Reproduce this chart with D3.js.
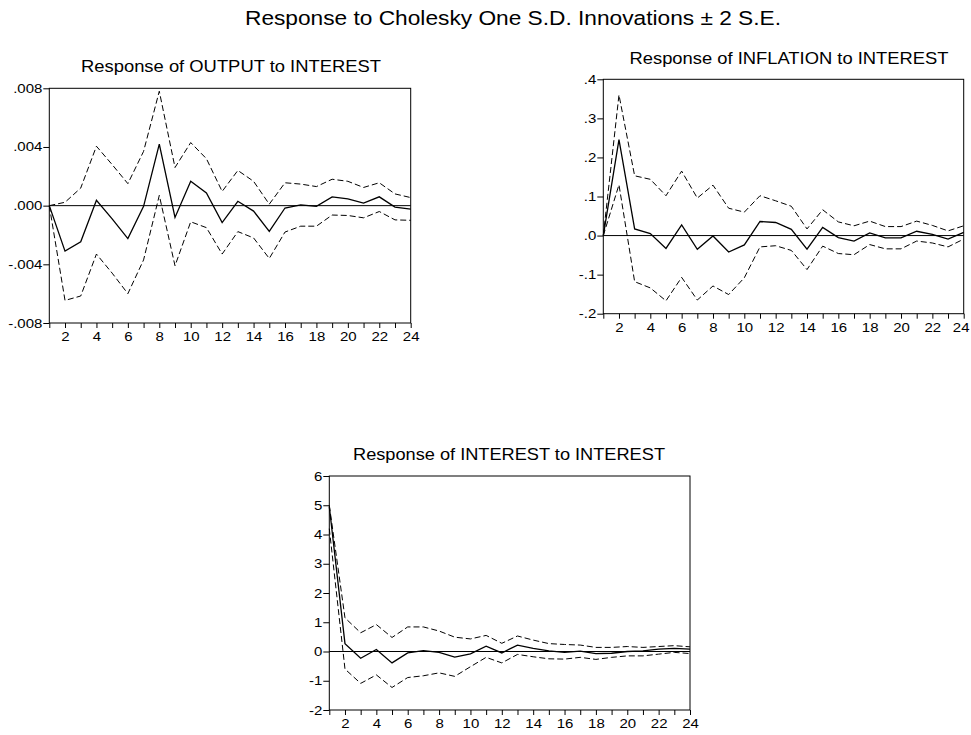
<!DOCTYPE html>
<html>
<head>
<meta charset="utf-8">
<script src="https://cdn.jsdelivr.net/npm/d3@7"></script>
<style>
  body { margin: 0; background: #fff; }
  svg { display: block; font-family: Arial, "Liberation Sans", sans-serif; }
</style>
</head>
<body>
<svg id="chart" width="971" height="735"></svg>
<script>
// periods on the x axis
const periods = d3.range(1, 25);

// Response of OUTPUT to INTEREST
const outputResp  = [0, -0.0031, -0.00246, 0.00037, -0.0009, -0.00225, -0.00005, 0.0042, -0.0008, 0.00166, 0.00087, -0.00115, 0.0003, -0.00037, -0.00175, -0.00016, 0.00005, -0.00005, 0.0006, 0.00046, 0.00018, 0.0006, -0.0001, -0.00023];
const outputUpper = [0, 0.00023, 0.0012, 0.00405, 0.0028, 0.0015, 0.0037, 0.0078, 0.0026, 0.0043, 0.0032, 0.00097, 0.0024, 0.00166, 0.0001, 0.00156, 0.00147, 0.0013, 0.0018, 0.00166, 0.00124, 0.00156, 0.0008, 0.00055];
const outputLower = [0, -0.00646, -0.00616, -0.0033, -0.0046, -0.006, -0.0037, 0.0007, -0.0041, -0.0011, -0.0015, -0.0033, -0.00177, -0.0022, -0.0036, -0.0018, -0.0014, -0.0014, -0.00064, -0.00067, -0.00083, -0.0004, -0.00097, -0.001];
const outputTicks  = [0.008, 0.004, 0, -0.004, -0.008];
const outputLabels = [".008", ".004", ".000", "-.004", "-.008"];

// Response of INFLATION to INTEREST
const inflResp  = [0, 0.2455, 0.017, 0.005, -0.033, 0.0275, -0.035, -0.001, -0.042, -0.024, 0.036, 0.0335, 0.016, -0.035, 0.021, -0.005, -0.014, 0.007, -0.006, -0.006, 0.011, 0.003, -0.009, 0.008];
const inflUpper = [0, 0.36, 0.153, 0.144, 0.102, 0.165, 0.096, 0.129, 0.07, 0.06, 0.102, 0.089, 0.075, 0.017, 0.066, 0.035, 0.025, 0.037, 0.023, 0.023, 0.037, 0.026, 0.012, 0.025];
const inflLower = [0, 0.13, -0.118, -0.134, -0.167, -0.107, -0.165, -0.129, -0.151, -0.108, -0.029, -0.026, -0.038, -0.087, -0.027, -0.046, -0.049, -0.023, -0.034, -0.034, -0.014, -0.019, -0.029, -0.009];
const inflTicks  = [0.4, 0.3, 0.2, 0.1, 0, -0.1, -0.2];
const inflLabels = [".4", ".3", ".2", ".1", ".0", "-.1", "-.2"];

// Response of INTEREST to INTEREST
const rateResp  = [4.95, 0.27, -0.23, 0.07, -0.39, -0.05, 0.03, -0.03, -0.19, -0.08, 0.18, -0.05, 0.22, 0.11, 0.02, -0.03, 0.01, -0.07, -0.06, 0, 0.02, 0.08, 0.11, 0.08];
const rateUpper = [5.0, 1.15, 0.64, 0.92, 0.48, 0.84, 0.84, 0.70, 0.49, 0.43, 0.55, 0.28, 0.53, 0.39, 0.27, 0.24, 0.22, 0.14, 0.14, 0.17, 0.14, 0.17, 0.2, 0.16];
const rateLower = [4.2, -0.6, -1.09, -0.8, -1.23, -0.89, -0.83, -0.73, -0.85, -0.52, -0.2, -0.39, -0.1, -0.18, -0.25, -0.26, -0.2, -0.27, -0.2, -0.15, -0.15, -0.09, -0.03, -0.07];
const rateTicks  = [6, 5, 4, 3, 2, 1, 0, -1, -2];
const rateLabels = ["6", "5", "4", "3", "2", "1", "0", "-1", "-2"];

const mainTitle = "Response to Cholesky One S.D. Innovations \u00b1 2 S.E.";

// layout of each panel (pixels)
const panels = [
  { title: "Response of OUTPUT to INTEREST", resp: outputResp, upper: outputUpper, lower: outputLower,
    ticks: outputTicks, labels: outputLabels,
    left: 49.3, right: 410.7, top: 88.3, bottom: 323, titleX: 231, titleY: 72, titleW: 300 },
  { title: "Response of INFLATION to INTEREST", resp: inflResp, upper: inflUpper, lower: inflLower,
    ticks: inflTicks, labels: inflLabels,
    left: 603.3, right: 963.7, top: 79.3, bottom: 313.7, titleX: 789, titleY: 64, titleW: 319 },
  { title: "Response of INTEREST to INTEREST", resp: rateResp, upper: rateUpper, lower: rateLower,
    ticks: rateTicks, labels: rateLabels,
    left: 329.3, right: 690, top: 476, bottom: 710, titleX: 509, titleY: 460, titleW: 312 }
];

const svg = d3.select("#chart");
const W = 971;
const tickFont = 12.5;
const stretch = 1.2; // tick labels look wider than plain Arial

svg.append("text")
  .attr("x", 513).attr("y", 25)
  .attr("text-anchor", "middle")
  .attr("font-size", 20.5)
  .attr("textLength", 536).attr("lengthAdjust", "spacingAndGlyphs")
  .text(mainTitle);

panels.forEach(p => {
  const x = d3.scaleLinear().domain([1, 24]).range([p.left, p.right]);
  const y = d3.scaleLinear().domain([d3.min(p.ticks), d3.max(p.ticks)]).range([p.bottom, p.top]);

  const g = svg.append("g");

  g.append("text")
    .attr("x", p.titleX).attr("y", p.titleY)
    .attr("text-anchor", "middle")
    .attr("font-size", 16.5)
    .attr("textLength", p.titleW).attr("lengthAdjust", "spacingAndGlyphs")
    .text(p.title);

  // y axis
  const yAxis = g.append("g")
    .attr("transform", `translate(${p.left},0)`)
    .call(d3.axisLeft(y).tickValues(p.ticks).tickSize(6).tickSizeOuter(0).tickPadding(2)
      .tickFormat((d, i) => p.labels[i]));
  yAxis.selectAll("text")
    .attr("font-size", tickFont).attr("fill", "#000")
    .attr("transform", `scale(${stretch},1)`)
    .attr("x", -7 / stretch);

  // x axis
  const xAxis = g.append("g")
    .attr("transform", `translate(0,${p.bottom})`)
    .call(d3.axisBottom(x).tickValues(periods).tickSize(5).tickSizeOuter(0).tickPadding(4)
      .tickFormat(d => d % 2 === 0 ? d : ""));
  xAxis.selectAll("text")
    .attr("font-size", tickFont).attr("fill", "#000")
    .attr("transform", `scale(${stretch},1)`);

  // keep the last label inside the page
  xAxis.selectAll(".tick").each(function (d) {
    const t = d3.select(this).select("text");
    const half = t.node().getComputedTextLength() * stretch / 2;
    const over = x(d) + half - (W - 2);
    if (over > 0) t.attr("x", -over / stretch);
  });

  g.selectAll(".domain").remove();
  g.selectAll(".tick line").attr("stroke", "#000");

  // frame
  g.append("rect")
    .attr("x", p.left).attr("y", p.top)
    .attr("width", p.right - p.left).attr("height", p.bottom - p.top)
    .attr("fill", "none").attr("stroke", "#000").attr("stroke-width", 1);

  // zero line
  g.append("line")
    .attr("x1", p.left).attr("x2", p.right)
    .attr("y1", y(0)).attr("y2", y(0))
    .attr("stroke", "#000").attr("stroke-width", 1);

  const line = d3.line().x((d, i) => x(periods[i])).y(d => y(d));

  g.append("path").datum(p.upper).attr("d", line)
    .attr("fill", "none").attr("stroke", "#000").attr("stroke-width", 1)
    .attr("stroke-dasharray", "6,3");
  g.append("path").datum(p.lower).attr("d", line)
    .attr("fill", "none").attr("stroke", "#000").attr("stroke-width", 1)
    .attr("stroke-dasharray", "6,3");
  g.append("path").datum(p.resp).attr("d", line)
    .attr("fill", "none").attr("stroke", "#000").attr("stroke-width", 1.3);
});
</script>
</body>
</html>
